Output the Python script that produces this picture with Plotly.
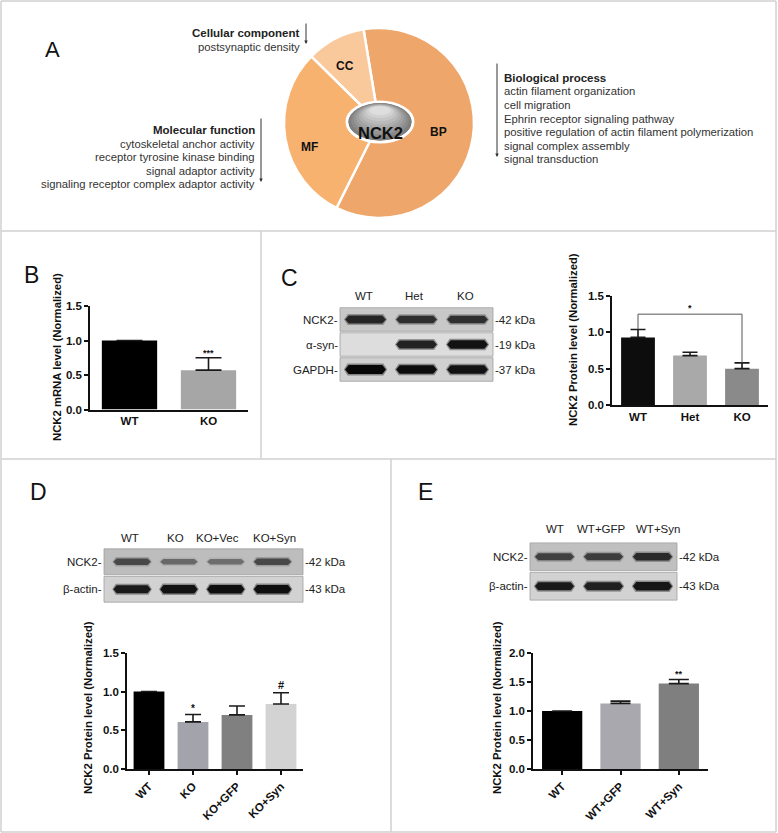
import plotly.graph_objects as go

W, H = 778, 833
FONT = "Arial, Liberation Sans, sans-serif"

# ---------------- Panel A data ----------------
go_terms = ["BP", "MF", "CC"]
go_share = [60, 30, 10]
go_colors = ["#eea66a", "#f8b26f", "#f9c89b"]
cc_title = "Cellular component"
cc_items = ["postsynaptic density"]
bp_title = "Biological process"
bp_items = ["actin filament organization", "cell migration", "Ephrin receptor signaling pathway",
            "positive regulation of actin filament polymerization", "signal complex assembly",
            "signal transduction"]
mf_title = "Molecular function"
mf_items = ["cytoskeletal anchor activity", "receptor tyrosine kinase binding",
            "signal adaptor activity", "signaling receptor complex adaptor activity"]

# ---------------- Panel B data ----------------
b_groups = ["WT", "KO"]
b_mean = [1.00, 0.57]
b_err = [0.0, 0.18]
b_colors = ["#000000", "#a6a6a6"]

# ---------------- Panel C data ----------------
c_groups = ["WT", "Het", "KO"]
c_mean = [0.93, 0.68, 0.50]
c_err = [0.11, 0.045, 0.08]
c_colors = ["#0d0d0d", "#a9a9a9", "#8a8a8a"]
c_lanes = ["WT", "Het", "KO"]
c_rows = ["NCK2", "α-syn", "GAPDH"]
c_kda = ["42 kDa", "19 kDa", "37 kDa"]
c_bands = [[0.80, 0.75, 0.75], [0.0, 0.82, 0.90], [0.96, 0.93, 0.90]]
c_bg = ["#c8c8c8", "#dddddd", "#d0d0d0"]

# ---------------- Panel D data ----------------
d_groups = ["WT", "KO", "KO+GFP", "KO+Syn"]
d_mean = [1.00, 0.61, 0.70, 0.84]
d_err = [0.0, 0.095, 0.115, 0.145]
d_colors = ["#000000", "#a3a3ab", "#808080", "#d3d3d3"]
d_lanes = ["WT", "KO", "KO+Vec", "KO+Syn"]
d_rows = ["NCK2", "β-actin"]
d_kda = ["42 kDa", "43 kDa"]
d_bands = [[0.62, 0.45, 0.42, 0.62], [0.86, 0.90, 0.92, 0.92]]
d_bg = ["#bdbdbd", "#d2d2d2"]

# ---------------- Panel E data ----------------
e_groups = ["WT", "WT+GFP", "WT+Syn"]
e_mean = [1.00, 1.13, 1.47]
e_err = [0.0, 0.04, 0.07]
e_colors = ["#000000", "#a8a8ae", "#7f7f7f"]
e_lanes = ["WT", "WT+GFP", "WT+Syn"]
e_rows = ["NCK2", "β-actin"]
e_kda = ["42 kDa", "43 kDa"]
e_bands = [[0.66, 0.68, 0.78], [0.86, 0.83, 0.88]]
e_bg = ["#c0c0c0", "#d2d2d2"]


def px(x):
    return x / W


def py(y):
    return 1 - y / H


def dx(a, b):
    return [a / W, b / W]


def dy(top, bot):
    return [1 - bot / H, 1 - top / H]


fig = go.Figure()
annotations = []
shapes = []

# ---------------- Panel A ----------------
fig.add_trace(go.Pie(labels=go_terms, values=go_share, sort=False, direction="clockwise",
                     rotation=-9.4, textinfo="none", hoverinfo="skip", showlegend=False,
                     marker=dict(colors=go_colors, line=dict(color="white", width=2.5)),
                     domain=dict(x=dx(284, 474), y=dy(28, 218))))

# grey "button" in the centre: soft highlight towards the top
shapes.append(dict(type="circle", xref="paper", yref="paper", x0=px(347), x1=px(413),
                   y0=py(142), y1=py(102), fillcolor="#737373", line=dict(color="white", width=3)))
for i, col in enumerate(["#7e7e7e", "#8a8a8a", "#969696", "#a2a2a2", "#aeaeae", "#bababa",
                         "#c6c6c6", "#d2d2d2", "#dedede"]):
    shapes.append(dict(type="circle", xref="paper", yref="paper",
                       x0=px(348.5 + i * 2.6), x1=px(411.5 - i * 2.6),
                       y0=py(140.5 - i * 3.2), y1=py(103 + i * 0.4),
                       fillcolor=col, line=dict(width=0)))
annotations.append(dict(text="<b>NCK2</b>", x=px(380), y=py(122), xref="paper", yref="paper",
                        showarrow=False, font=dict(size=16.5, color="#111", family=FONT)))
for lab, (lx, ly) in zip(["CC", "BP", "MF"], [(345, 57), (438, 123), (309, 138)]):
    annotations.append(dict(text=f"<b>{lab}</b>", x=px(lx), y=py(ly), xref="paper", yref="paper",
                            showarrow=False, font=dict(size=12, color="#111", family=FONT)))

annotations.append(dict(text="A", x=px(43), y=py(35), xref="paper", yref="paper", showarrow=False,
                        font=dict(size=22, color="#111", family=FONT)))

LS = 13.5


def text_block(title, items, x, y0, anchor):
    annotations.append(dict(text=f"<b>{title}</b>", x=px(x), y=py(y0), xref="paper", yref="paper",
                            xanchor=anchor, showarrow=False, font=dict(size=11.5, color="#222", family=FONT)))
    for i, t in enumerate(items):
        annotations.append(dict(text=t, x=px(x), y=py(y0 + LS * (i + 1)), xref="paper", yref="paper",
                                xanchor=anchor, showarrow=False, font=dict(size=11.3, color="#333", family=FONT)))


text_block(cc_title, cc_items, 302, 25, "right")
text_block(bp_title, bp_items, 502, 70, "left")
text_block(mf_title, mf_items, 257, 122, "right")


def down_arrow(x, top, bot):
    annotations.append(dict(text="", x=px(x), y=py(bot), xref="paper", yref="paper",
                            ax=0, ay=-(bot - top), showarrow=True, arrowhead=2, arrowsize=0.7,
                            arrowwidth=1, arrowcolor="#333"))


down_arrow(306, 22, 44)
down_arrow(497, 62, 157)
down_arrow(261, 117, 182)

# ---------------- bar chart helper ----------------
TICKF = dict(size=11.5, color="#111", family=FONT, weight="bold")


def bar_chart(idx, groups, mean, err, colors, width, capw, xdom, ydom, yrange, dtick, xticks, tickangle):
    xa, ya = ("x", "y") if idx == 1 else (f"x{idx}", f"y{idx}")
    fig.add_trace(go.Bar(x=groups, y=mean, width=width, marker=dict(color=colors, line=dict(width=0)),
                         error_y=dict(type="data", array=err, arrayminus=[0] * len(err), symmetric=False,
                                      color="#1a1a1a", thickness=1.6, width=capw),
                         xaxis=xa, yaxis=ya, showlegend=False, hoverinfo="skip"))
    k = "" if idx == 1 else str(idx)
    fig.layout["xaxis" + k] = dict(domain=xdom, anchor=ya, showline=True, linecolor="#111", linewidth=1.6,
                                   ticks="outside" if xticks else "", ticklen=4, tickwidth=1.6, tickcolor="#111",
                                   tickfont=TICKF, showgrid=False, zeroline=False, tickangle=tickangle,
                                   range=[-0.5, len(groups) - 0.5], fixedrange=True, automargin=False)
    fig.layout["yaxis" + k] = dict(domain=ydom, anchor=xa, showline=True, linecolor="#111", linewidth=1.6,
                                   ticks="outside", ticklen=4, tickwidth=1.6, tickcolor="#111",
                                   tickfont=TICKF, showgrid=False, zeroline=False, range=yrange,
                                   dtick=dtick, tick0=0, tickformat=".1f", fixedrange=True, automargin=False)
    return xa, ya


def ytitle(text, x, y):
    annotations.append(dict(text=f"<b>{text}</b>", x=px(x), y=py(y), xref="paper", yref="paper",
                            xanchor="center", yanchor="middle",
                            textangle=-90, showarrow=False, font=dict(size=11.3, color="#111", family=FONT)))


def star(xa, ya, xcat, yval, text, size=10, shift=0):
    annotations.append(dict(text=f"<b>{text}</b>", x=xcat, y=yval, xref=xa, yref=ya, yanchor="bottom",
                            yshift=shift, showarrow=False, font=dict(size=size, color="#111", family=FONT)))


# Panel B
annotations.append(dict(text="B", x=px(22), y=py(260), xref="paper", yref="paper", showarrow=False,
                        font=dict(size=23, color="#111", family=FONT)))
xa, ya = bar_chart(1, b_groups, b_mean, b_err, b_colors, 0.7, 13, dx(90, 248), dy(306, 409.5),
                   [0, 1.5], 0.5, False, 0)
ytitle("NCK2 mRNA level (Normalized)", 57, 357)
star(xa, ya, "KO", b_mean[1] + b_err[1], "***", 9, -2)

# Panel C
annotations.append(dict(text="C", x=px(289), y=py(263), xref="paper", yref="paper", showarrow=False,
                        font=dict(size=23, color="#111", family=FONT)))
xa, ya = bar_chart(2, c_groups, c_mean, c_err, c_colors, 0.65, 7.5, dx(612, 768), dy(296, 405),
                   [0, 1.5], 0.5, False, 0)
ytitle("NCK2 Protein level (Normalized)", 573, 340)
br = 1.25
shapes.append(dict(type="line", xref=xa, yref=ya, x0="WT", x1="KO", y0=br, y1=br,
                   line=dict(color="#555", width=1)))
shapes.append(dict(type="line", xref=xa, yref=ya, x0="WT", x1="WT", y0=br, y1=c_mean[0] + c_err[0],
                   line=dict(color="#555", width=1)))
shapes.append(dict(type="line", xref=xa, yref=ya, x0="KO", x1="KO", y0=br, y1=c_mean[2] + c_err[2],
                   line=dict(color="#555", width=1)))
star(xa, ya, "Het", br, "*", 9, -1)

# Panel D
annotations.append(dict(text="D", x=px(28), y=py(492), xref="paper", yref="paper", showarrow=False,
                        font=dict(size=23, color="#111", family=FONT)))
xa, ya = bar_chart(3, d_groups, d_mean, d_err, d_colors, 0.7, 8, dx(127, 303), dy(652.7, 769.3),
                   [0, 1.5], 0.5, True, -45)
ytitle("NCK2 Protein level (Normalized)", 88, 708)
star(xa, ya, "KO", d_mean[1] + d_err[1], "*", 10, -1)
star(xa, ya, "KO+Syn", d_mean[3] + d_err[3], "#", 11, 0)

# Panel E
annotations.append(dict(text="E", x=px(425), y=py(492), xref="paper", yref="paper", showarrow=False,
                        font=dict(size=23, color="#111", family=FONT)))
xa, ya = bar_chart(4, e_groups, e_mean, e_err, e_colors, 0.69, 10, dx(533, 708), dy(652.7, 769.3),
                   [0, 2.0], 0.5, True, -45)
ytitle("NCK2 Protein level (Normalized)", 497, 708)
star(xa, ya, "WT+Syn", e_mean[2] + e_err[2], "**", 9, -1)


# ---------------- Blots ----------------
BAND_DX = [-0.40, -0.33, 0.33, 0.40, 0.33, -0.33, -0.40]
BAND_DY = [0.0, -1.0, -1.0, 0.0, 1.0, 1.0, 0.0]


def blot(idx, lanes, rows, kda, bands, bgs, xdom, ydom, xrange, label_y, label_shift):
    xa, ya = f"x{idx}", f"y{idx}"
    nrow = len(rows)
    row_px = (ydom[1] - ydom[0]) / nrow
    fig.layout[f"xaxis{idx}"] = dict(domain=dx(*xdom), anchor=ya, range=xrange, visible=False, fixedrange=True)
    fig.layout[f"yaxis{idx}"] = dict(domain=dy(*ydom), anchor=xa, range=[nrow - 0.5, -0.5], visible=False,
                                     fixedrange=True)
    for r, row in enumerate(bands):
        shapes.append(dict(type="rect", xref=f"{xa} domain", yref=ya, x0=0, x1=1, y0=r - 0.47, y1=r + 0.47,
                           fillcolor=bgs[r], line=dict(color="#a0a0a0", width=0.8), layer="below"))
        for l, v in enumerate(row):
            if v <= 0:
                continue
            g = int(190 * (1 - v))
            halo = int(min(185, g + 60))
            h = (1.5 + 3.0 * v) / row_px
            fig.add_trace(go.Scatter(x=[l + d * 1.06 for d in BAND_DX], y=[r + d * (h + 1.5 / row_px) for d in BAND_DY],
                                     mode="lines", fill="toself", fillcolor=f"rgba({halo},{halo},{halo},0.55)",
                                     line=dict(width=0), xaxis=xa, yaxis=ya, showlegend=False, hoverinfo="skip"))
            fig.add_trace(go.Scatter(x=[l + d for d in BAND_DX], y=[r + d * h for d in BAND_DY],
                                     mode="lines", fill="toself", fillcolor=f"rgb({g},{g},{g})",
                                     line=dict(width=0), xaxis=xa, yaxis=ya, showlegend=False, hoverinfo="skip"))
        annotations.append(dict(text=rows[r] + "-", x=px(xdom[0]), y=r, xref="paper", yref=ya,
                                xanchor="right", showarrow=False, font=dict(size=11.5, color="#222", family=FONT)))
        annotations.append(dict(text="-" + kda[r], x=px(xdom[1]), y=r, xref="paper", yref=ya,
                                xanchor="left", showarrow=False, font=dict(size=11.5, color="#222", family=FONT)))
    for l, lab in enumerate(lanes):
        annotations.append(dict(text=lab, x=l, y=py(label_y), xref=xa, yref="paper", showarrow=False,
                                xshift=label_shift[l], font=dict(size=11.5, color="#222", family=FONT)))


blot(5, c_lanes, c_rows, c_kda, c_bands, c_bg, (340, 493), (307, 382), [-0.5, 2.5], 296, [-2, -2, -2])
blot(6, d_lanes, d_rows, d_kda, d_bands, d_bg, (104, 303), (548, 603), [-0.6, 3.65], 538, [-2, -3, -8, 2])
blot(7, e_lanes, e_rows, e_kda, e_bands, e_bg, (530, 677), (542, 601), [-0.5, 2.5], 529, [0, -2, 5])

# ---------------- Panel frames ----------------
BC = "#d0d0d0"
for (x0, y0, x1, y1) in [(1, 1, 776, 1), (1, 832, 776, 832), (1, 1, 1, 832), (776, 1, 776, 832),
                         (1, 231, 776, 231), (1, 459, 776, 459), (261, 231, 261, 459), (391, 459, 391, 832)]:
    shapes.append(dict(type="line", xref="paper", yref="paper", x0=px(x0), x1=px(x1), y0=py(y0), y1=py(y1),
                       line=dict(color=BC, width=1.5)))

fig.update_layout(width=W, height=H, margin=dict(l=0, r=0, t=0, b=0, pad=0), paper_bgcolor="white",
                  plot_bgcolor="rgba(0,0,0,0)", annotations=annotations, shapes=shapes,
                  font=dict(family=FONT), bargap=0.3, showlegend=False)

fig.write_html("out.html", config={"displayModeBar": False},
               post_script="document.body.style.margin='0px';document.body.style.padding='0px';"
                           "document.documentElement.style.overflow='hidden';")
